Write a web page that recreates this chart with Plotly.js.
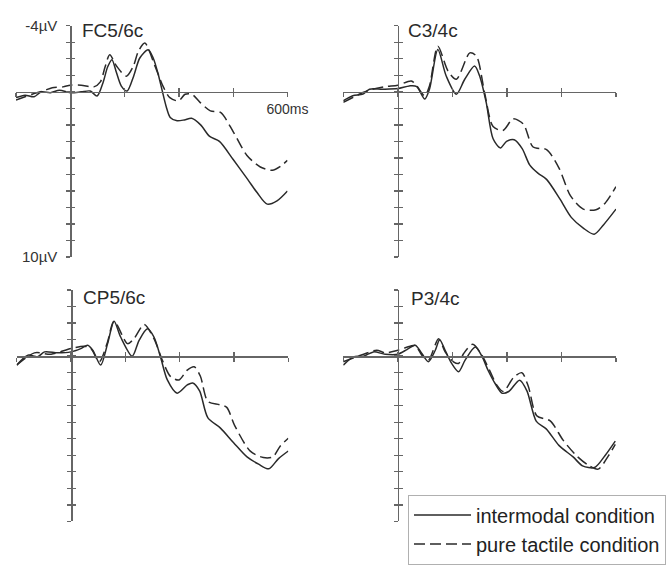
<!DOCTYPE html>
<html>
<head>
<meta charset="utf-8">
<script src="https://cdn.plot.ly/plotly-3.0.1.min.js"></script>
<style>html,body{margin:0;padding:0;background:#fff;}#chart{width:672px;height:565px;}</style>
</head>
<body>
<div id="chart"></div>
<script>
// ---- data ----
const panelNames = ["FC5/6c", "C3/4c", "CP5/6c", "P3/4c"];
const seriesNames = ["intermodal condition", "pure tactile condition"];
const xTicks = [-150, 0, 150, 300, 450, 600];
const xTickText = ["", "", "", "", "", "600ms"];
const yTicks = [-4, -3, -2, -1, 0, 1, 2, 3, 4, 5, 6, 7, 8, 9, 10];
const yTickText = ["-4µV", "", "", "", "", "", "", "", "", "", "", "", "", "", "10µV"];

// FC5/6c
const fc_int_t = [-150,-125,-100,-80,-55,-30,0,30,55,74,91,103,115,127,141,157,175,192,215,229,243,253,265,276,295,315,335,360,385,412,450,490,516,544,571,600];
const fc_int_v = [0.35,0.2,0.3,0.0,0.05,-0.1,0.05,0.0,-0.05,0.25,-0.6,-1.5,-1.95,-1.2,-0.35,-0.05,-0.95,-2.05,-2.55,-2.05,-1.05,-0.15,0.9,1.55,1.75,1.7,1.6,2.0,2.7,3.0,4.1,5.3,6.1,6.8,6.6,6.0];
const fc_tac_t = [-150,-125,-100,-75,-50,-20,0,30,65,83,96,109,128,155,174,188,206,234,258,275,299,317,336,359,387,415,451,488,525,558,581,600];
const fc_tac_v = [0.5,0.3,0.1,-0.05,-0.25,-0.3,-0.4,-0.4,-0.3,-0.6,-1.5,-2.25,-1.55,-0.95,-1.55,-2.45,-2.95,-1.55,-0.25,0.35,0.55,0.15,0.15,0.65,1.15,1.25,2.45,3.85,4.55,4.75,4.5,4.15];

// C3/4c
const c3_int_t = [-150,-124,-96,-78,-41,0,32,52,74,87,110,133,161,184,211,225,243,262,282,299,320,342,363,386,409,446,477,510,540,566,600];
const c3_int_v = [0.54,0.24,0.14,-0.16,-0.16,-0.2,-0.36,-0.32,0.44,-0.16,-2.56,-0.96,0.14,-0.76,-1.56,-0.96,0.64,2.84,3.4,3.0,2.9,3.44,4.44,4.94,5.3,6.5,7.6,8.25,8.62,8.04,7.1];
const c3_tac_t = [-150,-96,-69,-32,0,37,52,74,87,110,138,161,198,216,239,262,289,317,345,372,409,443,475,510,545,570,600];
const c3_tac_v = [0.64,0.04,-0.16,-0.32,-0.4,-0.66,-0.36,0.24,-0.36,-2.76,-1.26,-0.76,-2.36,-2.16,0.1,2.1,2.34,1.64,1.94,3.34,3.5,4.6,6.3,7.1,7.14,6.74,5.74];

// CP5/6c
const cp_int_t = [-150,-119,-92,-73,-37,0,27,46,60,82,101,119,137,169,188,211,229,247,266,293,321,336,355,378,412,449,486,518,546,573,600];
const cp_int_v = [0.54,-0.06,0.04,-0.26,-0.2,-0.26,-0.46,-0.66,-0.36,0.54,-0.76,-2.12,-1.16,0.0,-0.96,-1.66,-1.16,0.04,1.44,2.24,1.74,1.62,2.1,3.74,4.34,5.24,6.1,6.54,6.82,6.2,5.74];
const cp_tac_t = [-150,-101,-55,0,37,55,78,100,119,156,174,202,229,252,275,298,321,340,357,378,410,430,452,495,531,557,578,600];
const cp_tac_v = [0.54,-0.2,-0.12,-0.46,-0.6,-0.46,0.34,-0.8,-2.12,-0.76,-1.06,-1.92,-1.06,0.24,1.24,1.44,0.84,0.64,1.2,2.74,2.94,3.1,4.2,5.75,6.14,6.1,5.44,4.97];

// P3/4c
const p3_int_t = [-150,-122,-94,-67,-35,0,25,48,66,84,103,115,130,148,167,185,213,231,249,267,287,305,335,355,381,408,443,482,508,541,569,598];
const p3_int_v = [0.54,0.04,0.0,-0.26,-0.12,-0.12,-0.4,-0.66,-0.16,0.34,-0.36,-1.0,-0.36,0.44,0.94,0.24,-0.55,0.0,0.9,1.64,2.24,2.14,1.45,2.1,3.95,4.4,5.4,6.1,6.64,6.74,6.04,5.14];
const p3_tac_t = [-150,-94,-58,-35,0,34,48,66,84,112,130,153,167,181,206,231,254,272,290,318,341,359,382,419,455,492,524,551,579,598];
const p3_tac_v = [0.34,-0.12,-0.36,-0.2,-0.36,-0.6,-0.66,-0.06,0.24,-1.06,-0.26,0.34,0.44,-0.16,-0.72,-0.06,0.94,1.74,2.14,1.3,1.0,1.84,3.6,3.92,5.1,6.04,6.6,6.84,6.04,5.34];

const intT = [fc_int_t, c3_int_t, cp_int_t, p3_int_t];
const intV = [fc_int_v, c3_int_v, cp_int_v, p3_int_v];
const tacT = [fc_tac_t, c3_tac_t, cp_tac_t, p3_tac_t];
const tacV = [fc_tac_v, c3_tac_v, cp_tac_v, p3_tac_v];

// ---- layout geometry (pixels) ----
const W = 672, H = 565;
const boxes = [
  {xl: 16,   xr: 287.5, yt: 26,    yb: 259.3, tx: 80,  ty: 31},
  {xl: 343.3,xr: 616,   yt: 26,    yb: 259.3, tx: 406, ty: 31},
  {xl: 16.7, xr: 288.3, yt: 292.7, yb: 526,   tx: 81,  ty: 300},
  {xl: 343.3,xr: 616,   yt: 292.7, yb: 526,   tx: 409, ty: 301}
];
const X_RANGE = [-150, 600];
const Y_RANGE = [10, -4];
const FONT = "Liberation Sans, Arial, sans-serif";
const AX = "#666666";
const LINE = "#2a2a2a";

const fx = p => p / W;
const fy = p => 1 - p / H;

const traces = [];
const layout = {
  width: W, height: H,
  margin: {l: 0, r: 0, t: 0, b: 0},
  paper_bgcolor: "#fff", plot_bgcolor: "rgba(0,0,0,0)",
  font: {family: FONT, color: "#333"},
  showlegend: true,
  legend: {
    x: fx(408), y: fy(499), xanchor: "left", yanchor: "top",
    bordercolor: "#b0b0b0", borderwidth: 1, bgcolor: "#fff",
    font: {family: FONT, size: 20, color: "#222"},
    itemwidth: 57, tracegroupgap: 0
  },
  annotations: []
};

boxes.forEach((b, i) => {
  const n = i === 0 ? "" : String(i + 1);
  const o = String(i + 5);
  const zeroY = b.yt + (4 / 14) * (b.yb - b.yt);
  const zeroX = b.xl + (150 / 750) * (b.xr - b.xl);
  const first = i === 0;
  const common = {showgrid: false, zeroline: false, fixedrange: true};
  layout["xaxis" + n] = Object.assign({}, common, {
    domain: [fx(b.xl), fx(b.xr)], range: X_RANGE, anchor: "free", position: fy(zeroY),
    showline: true, linecolor: AX, linewidth: 1.6,
    ticks: "outside", ticklen: 4, tickwidth: 1.4, tickcolor: AX,
    tickmode: "array", tickvals: xTicks, ticktext: first ? xTickText : xTicks.map(() => ""),
    tickfont: {family: FONT, size: 14, color: "#333"}
  });
  layout["yaxis" + n] = Object.assign({}, common, {
    domain: [fy(b.yb), fy(b.yt)], range: Y_RANGE, anchor: "free", position: fx(zeroX),
    showline: true, linecolor: AX, linewidth: 1.6,
    ticks: "outside", ticklen: 4, tickwidth: 1.4, tickcolor: AX,
    tickmode: "array", tickvals: yTicks, ticktext: first ? yTickText : yTicks.map(() => ""),
    ticklabelstandoff: 6,
    tickfont: {family: FONT, size: 15, color: "#333"}
  });
  layout["xaxis" + o] = Object.assign({}, common, {
    overlaying: "x" + n, range: X_RANGE, anchor: "free", position: fy(zeroY),
    showline: false, ticks: "inside", ticklen: 4, tickwidth: 1.4, tickcolor: AX,
    tickmode: "array", tickvals: xTicks, showticklabels: false
  });
  layout["yaxis" + o] = Object.assign({}, common, {
    overlaying: "y" + n, range: Y_RANGE, anchor: "free", position: fx(zeroX),
    showline: false, ticks: "inside", ticklen: 4, tickwidth: 1.4, tickcolor: AX,
    tickmode: "array", tickvals: yTicks, showticklabels: false
  });

  traces.push({
    type: "scatter", mode: "lines", x: intT[i], y: intV[i],
    xaxis: "x" + n, yaxis: "y" + n, name: seriesNames[0],
    showlegend: first, legendrank: 1, hoverinfo: "skip",
    line: {color: LINE, width: 1.5, shape: "spline", smoothing: 0.8}
  });
  traces.push({
    type: "scatter", mode: "lines", x: tacT[i], y: tacV[i],
    xaxis: "x" + n, yaxis: "y" + n, name: seriesNames[1],
    showlegend: first, legendrank: 2, hoverinfo: "skip",
    line: {color: LINE, width: 1.5, dash: "11px,5px", shape: "spline", smoothing: 0.8}
  });
  traces.push({
    type: "scatter", mode: "lines", x: [null], y: [null],
    xaxis: "x" + o, yaxis: "y" + o, showlegend: false, hoverinfo: "skip"
  });

  layout.annotations.push({
    text: panelNames[i], xref: "paper", yref: "paper",
    x: fx(b.tx), y: fy(b.ty), xanchor: "left", yanchor: "middle",
    showarrow: false, font: {family: FONT, size: 19, color: "#2a2a2a"}
  });
});

Plotly.newPlot("chart", traces, layout, {staticPlot: true, displayModeBar: false});
</script>
</body>
</html>
